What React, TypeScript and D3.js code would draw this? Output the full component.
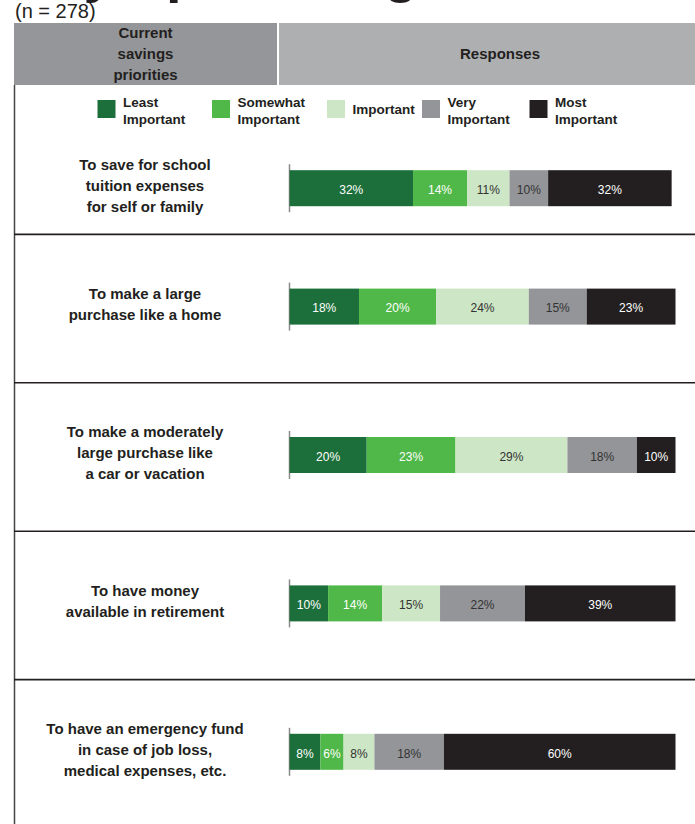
import React from "react";
import * as d3 from "d3";

// ---------- data ----------
const categories = ["school", "home", "moderate", "retirement", "emergency"];
const categoryLines = [
  ["To save for school", "tuition expenses", "for self or family"],
  ["To make a large", "purchase like a home"],
  ["To make a moderately", "large purchase like", "a car or vacation"],
  ["To have money", "available in retirement"],
  ["To have an emergency fund", "in case of job loss,", "medical expenses, etc."],
];
const seriesKeys = ["least", "somewhat", "important", "very", "most"];
const seriesLegendLines = [
  ["Least", "Important"],
  ["Somewhat", "Important"],
  ["Important"],
  ["Very", "Important"],
  ["Most", "Important"],
];
const leastImportant = [32, 18, 20, 10, 8];
const somewhatImportant = [14, 20, 23, 14, 6];
const importantVals = [11, 24, 29, 15, 8];
const veryImportant = [10, 15, 18, 22, 18];
const mostImportant = [32, 23, 10, 39, 60];
const headerLeftLines = ["Current", "savings", "priorities"];
const headerRight = "Responses";
const sampleNote = "(n = 278)";
const titleWords = ["Key", "plans & goals"];

// ---------- styles ----------
const seriesColors = ["#1c6f3a", "#50b848", "#cde6c5", "#939598", "#231f20"];
const labelColors = ["#ffffff", "#ffffff", "#333333", "#333333", "#ffffff"];
const FONT = "'Liberation Sans', Arial, Helvetica, sans-serif";
const INK = "#231f20";

const W = 695;
const H = 824;

export default function App() {
  const table = categories.map((c, i) => ({
    cat: c,
    least: leastImportant[i],
    somewhat: somewhatImportant[i],
    important: importantVals[i],
    very: veryImportant[i],
    most: mostImportant[i],
  }));
  const stacked = d3.stack<any>().keys(seriesKeys)(table);

  const x = d3.scaleLinear().domain([0, 100]).range([289.5, 675.5]);
  const y = d3.scaleBand<string>().domain(categories).range([86, 828]);
  const bw = y.bandwidth();
  const legendBottom = 142;
  const barH = 36;
  const center = (c: string, i: number) =>
    i === 0 ? (legendBottom + (y(c) as number) + bw) / 2 : (y(c) as number) + bw / 2 - 2;

  const legendX = [97.5, 212, 327, 422, 529.5];

  return (
    <svg
      width={W}
      height={H}
      style={{ position: "absolute", left: 0, top: 0, background: "#fff" }}
      fontFamily={FONT}
    >
      <rect x={0} y={0} width={W} height={H} fill="#fff" />
      {/* cropped title (only descenders visible) */}
      <text y={-9} fontSize={56} fontWeight="bold" fill={INK}>
        <tspan x={12}>{titleWords[0]}</tspan>
        <tspan x={166}>{titleWords[1]}</tspan>
      </text>
      <text x={15} y={18} fontSize={20} fill={INK}>
        {sampleNote}
      </text>

      {/* header */}
      <rect x={14} y={23} width={263} height={62} fill="#959699" />
      <rect x={279} y={23} width={W - 279} height={62} fill="#aeafb1" />
      {headerLeftLines.map((t, i) => (
        <text
          key={t}
          x={145.5}
          y={33 + i * 21}
          dy="0.35em"
          textAnchor="middle"
          fontSize={15}
          fontWeight="bold"
          fill={INK}
        >
          {t}
        </text>
      ))}
      <text x={500} y={54} dy="0.35em" textAnchor="middle" fontSize={15} fontWeight="bold" fill={INK}>
        {headerRight}
      </text>

      {/* frame */}
      <line x1={14.5} x2={14.5} y1={85} y2={H} stroke="#444" strokeWidth={1.5} />
      {categories.slice(0, -1).map((c) => (
        <line
          key={c}
          x1={14}
          x2={W}
          y1={(y(c) as number) + bw}
          y2={(y(c) as number) + bw}
          stroke={INK}
          strokeWidth={1.6}
        />
      ))}

      {/* legend */}
      {seriesKeys.map((k, i) => (
        <g key={k}>
          <rect x={legendX[i]} y={100} width={18} height={18} fill={seriesColors[i]} />
          {seriesLegendLines[i].map((t, j) => (
            <text
              key={j}
              x={legendX[i] + 25.5}
              y={seriesLegendLines[i].length === 1 ? 109.5 : 102 + j * 17}
              dy="0.35em"
              fontSize={13.5}
              fontWeight="bold"
              fill={INK}
            >
              {t}
            </text>
          ))}
        </g>
      ))}

      {/* category labels */}
      {categories.map((c, i) => {
        const lines = categoryLines[i];
        const cy = center(c, i) - 2.5;
        return lines.map((t, j) => (
          <text
            key={c + j}
            x={145}
            y={cy + (j - (lines.length - 1) / 2) * 21}
            dy="0.35em"
            textAnchor="middle"
            fontSize={15}
            fontWeight="bold"
            fill={INK}
          >
            {t}
          </text>
        ));
      })}

      {/* axis ticks */}
      {categories.map((c, i) => (
        <line
          key={"ax" + c}
          x1={x(0)}
          x2={x(0)}
          y1={center(c, i) - barH / 2 - 6}
          y2={center(c, i) + barH / 2 + 6}
          stroke="#8a8a8a"
          strokeWidth={1.5}
        />
      ))}

      {/* bars */}
      {stacked.map((s, si) => (
        <g key={s.key}>
          {s.map((d, i) => {
            const c = categories[i];
            const cy = center(c, i);
            const x0 = x(d[0]);
            const x1 = x(d[1]);
            return (
              <g key={c}>
                <rect x={x0} y={cy - barH / 2} width={x1 - x0} height={barH} fill={seriesColors[si]} />
                <text
                  x={(x0 + x1) / 2}
                  y={cy + 1.5}
                  dy="0.35em"
                  textAnchor="middle"
                  fontSize={12}
                  fill={labelColors[si]}
                >
                  {`${d[1] - d[0]}%`}
                </text>
              </g>
            );
          })}
        </g>
      ))}
    </svg>
  );
}
